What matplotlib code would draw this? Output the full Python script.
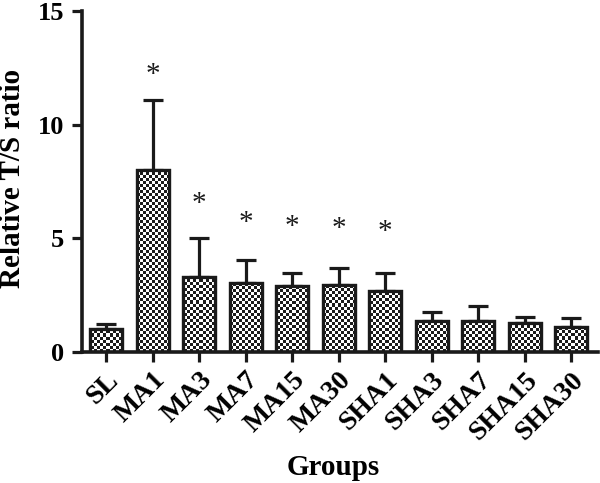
import matplotlib
matplotlib.use("Agg")
import matplotlib.pyplot as plt
import matplotlib.transforms as mtransforms
import numpy as np

groups = ["SL", "MA1", "MA3", "MA7", "MA15", "MA30", "SHA1", "SHA3", "SHA7", "SHA15", "SHA30"]
means = [1.02, 8.0, 3.3, 3.03, 2.9, 2.95, 2.68, 1.36, 1.36, 1.27, 1.1]
errors = [0.22, 3.1, 1.7, 1.02, 0.6, 0.75, 0.82, 0.4, 0.66, 0.27, 0.42]
star_groups = ["MA1", "MA3", "MA7", "MA15", "MA30", "SHA1"]
star_y = [12.2, 6.5, 5.7, 5.5, 5.4, 5.3]
yticks = [0, 5, 10, 15]

plt.rcParams['font.family'] = ['Liberation Serif', 'DejaVu Serif']
plt.rcParams['font.weight'] = 'bold'

fig = plt.figure(figsize=(6, 4.83), dpi=100)
ax = fig.add_axes([0.137, 0.271, 0.86, 0.706])
xlim = (-0.516, 10.58)
ylim = (0, 15)
ax.set_xlim(*xlim)
ax.set_ylim(*ylim)

x = np.arange(len(groups))
ax.errorbar(x, means, yerr=[np.zeros(len(means)), errors], fmt='none',
            ecolor='#1a1a1a', elinewidth=2.3, capsize=7, capthick=2.3, zorder=1)
bars = ax.bar(x, means, width=0.69, color='white', edgecolor='#1a1a1a',
              linewidth=2.3, zorder=2)

# checkerboard fill clipped to each bar
nx, ny = 172, 114
ii, jj = np.meshgrid(np.arange(nx), np.arange(ny))
checker = ((ii + jj) % 2).astype(float)
for b in bars:
    im = ax.imshow(checker, extent=(xlim[0], xlim[1], ylim[0], ylim[1]),
                   aspect='auto', interpolation='nearest', cmap='gray',
                   vmin=-0.12, vmax=1.0, zorder=2.5, origin='lower')
    im.set_clip_path(b)
ax.bar(x, means, width=0.69, color='none', edgecolor='#1a1a1a', linewidth=2.3, zorder=3)
ax.set_xlim(*xlim)
ax.set_ylim(*ylim)

for g, sy in zip(star_groups, star_y):
    ax.text(groups.index(g), sy, "*", ha='center', va='center', fontsize=21,
            fontweight='normal', color='#1a1a1a')

ax.set_yticks(yticks)
ax.set_yticklabels([str(t) for t in yticks], fontsize=19, fontweight='bold')
ax.set_xticks(x)
ax.set_xticklabels(groups, rotation=45, ha='right', va='top', rotation_mode='anchor',
                   fontsize=20, fontweight='bold')
offset = mtransforms.ScaledTranslation(9 / 72, 0, fig.dpi_scale_trans)
for lab in ax.get_xticklabels():
    lab.set_transform(lab.get_transform() + offset)
ax.tick_params(axis='both', width=2.3, length=7, color='#1a1a1a')
ax.tick_params(axis='x', pad=4)
ax.tick_params(axis='y', pad=6)

for s in ['top', 'right']:
    ax.spines[s].set_visible(False)
for s in ['left', 'bottom']:
    ax.spines[s].set_linewidth(2.6)
    ax.spines[s].set_color('#1a1a1a')

ax.set_ylabel("Relative T/S ratio", fontsize=21, fontweight='bold', va='center')
ax.yaxis.set_label_coords(-0.136, 0.51)
ax.set_xlabel("Groups", fontsize=21, fontweight='bold', va='center')
ax.xaxis.set_label_coords(0.487, -0.337)

fig.savefig("out.png", dpi=100)
